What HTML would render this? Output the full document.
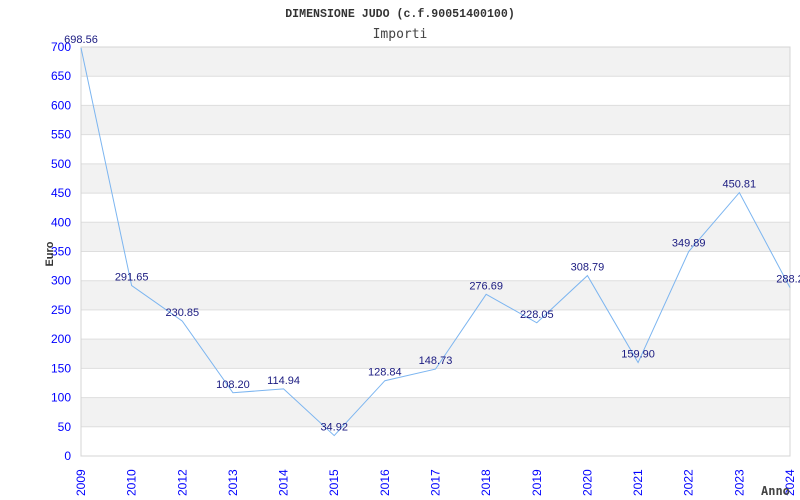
<!DOCTYPE html>
<html><head><meta charset="utf-8"><style>
body{margin:0;background:#fff}
svg{display:block;font-family:"Liberation Sans",sans-serif}
</style></head><body>
<svg id="chart" width="800" height="500" viewBox="0 0 800 500">
<text x="400" y="17" text-anchor="middle" font-family="Liberation Mono, monospace" font-size="11.6" font-weight="bold" fill="#333">DIMENSIONE JUDO (c.f.90051400100)</text>
<text x="400" y="38" text-anchor="middle" font-family="DejaVu Sans Mono, monospace" font-size="13" fill="#444">Importi</text>
<g id="bands"></g><g id="grid"></g><g id="yt"></g><g id="xt"></g>
<rect x="81" y="47" width="709" height="409" fill="none" stroke="#d4d4d4"/>
<polyline id="line" fill="none" stroke="#7cb5f0" stroke-width="1"/>
<g id="lbl"></g>
<text transform="translate(53,254) rotate(-90)" text-anchor="middle" font-size="11" font-weight="bold" fill="#333">Euro</text>
<text x="761" y="495" font-family="DejaVu Sans Mono, monospace" font-size="12" font-weight="bold" fill="#444">Anno</text>
</svg>
<script>
const categories=["2009","2010","2012","2013","2014","2015","2016","2017","2018","2019","2020","2021","2022","2023","2024"];
const values=[698.56,291.65,230.85,108.20,114.94,34.92,128.84,148.73,276.69,228.05,308.79,159.90,349.89,450.81,288.2];
const valueLabels=["698.56","291.65","230.85","108.20","114.94","34.92","128.84","148.73","276.69","228.05","308.79","159.90","349.89","450.81","288.2"];
const yTicks=[0,50,100,150,200,250,300,350,400,450,500,550,600,650,700];
const NS="http://www.w3.org/2000/svg";
const x0=81,x1=790,yTop=47,yBot=456,yMax=700;
const X=i=>x0+i*(x1-x0)/(categories.length-1);
const Y=v=>yBot-v/yMax*(yBot-yTop);
function mk(t,a,p){const e=document.createElementNS(NS,t);for(const k in a)e.setAttribute(k,a[k]);p.appendChild(e);return e;}
const bands=document.getElementById('bands'),grid=document.getElementById('grid'),yt=document.getElementById('yt'),xt=document.getElementById('xt'),lbl=document.getElementById('lbl');
for(let i=0;i<yTicks.length-1;i++){
 if(i%2===1){const r=mk('rect',{x:x0,y:Y(yTicks[i+1]),width:x1-x0,height:Y(yTicks[i])-Y(yTicks[i+1]),fill:'#f2f2f2'},bands);
 
 }
}
yTicks.forEach(v=>{
 const l=mk('line',{x1:x0,x2:x1,y1:Y(v),y2:Y(v),stroke:'#dedede'},grid);
 
 
 const t=mk('text',{x:71,y:Y(v)+4,'text-anchor':'end','font-size':12,fill:'#0000ff'},yt);
 t.textContent=v;
 
 
});
categories.forEach((c,i)=>{
 const t=mk('text',{transform:`translate(${X(i)+4},496) rotate(-90)`,'font-size':12,fill:'#0000ff'},xt);
 t.textContent=c;
 
 
});
document.getElementById('line').setAttribute('points',values.map((v,i)=>X(i)+','+Y(v)).join(' '));
values.forEach((v,i)=>{
 const t=mk('text',{x:X(i),y:Y(v)-5,'text-anchor':'middle','font-size':11,fill:'#1a1a80'},lbl);
 t.textContent=valueLabels[i];
 
 
});
</script>
</body></html>
